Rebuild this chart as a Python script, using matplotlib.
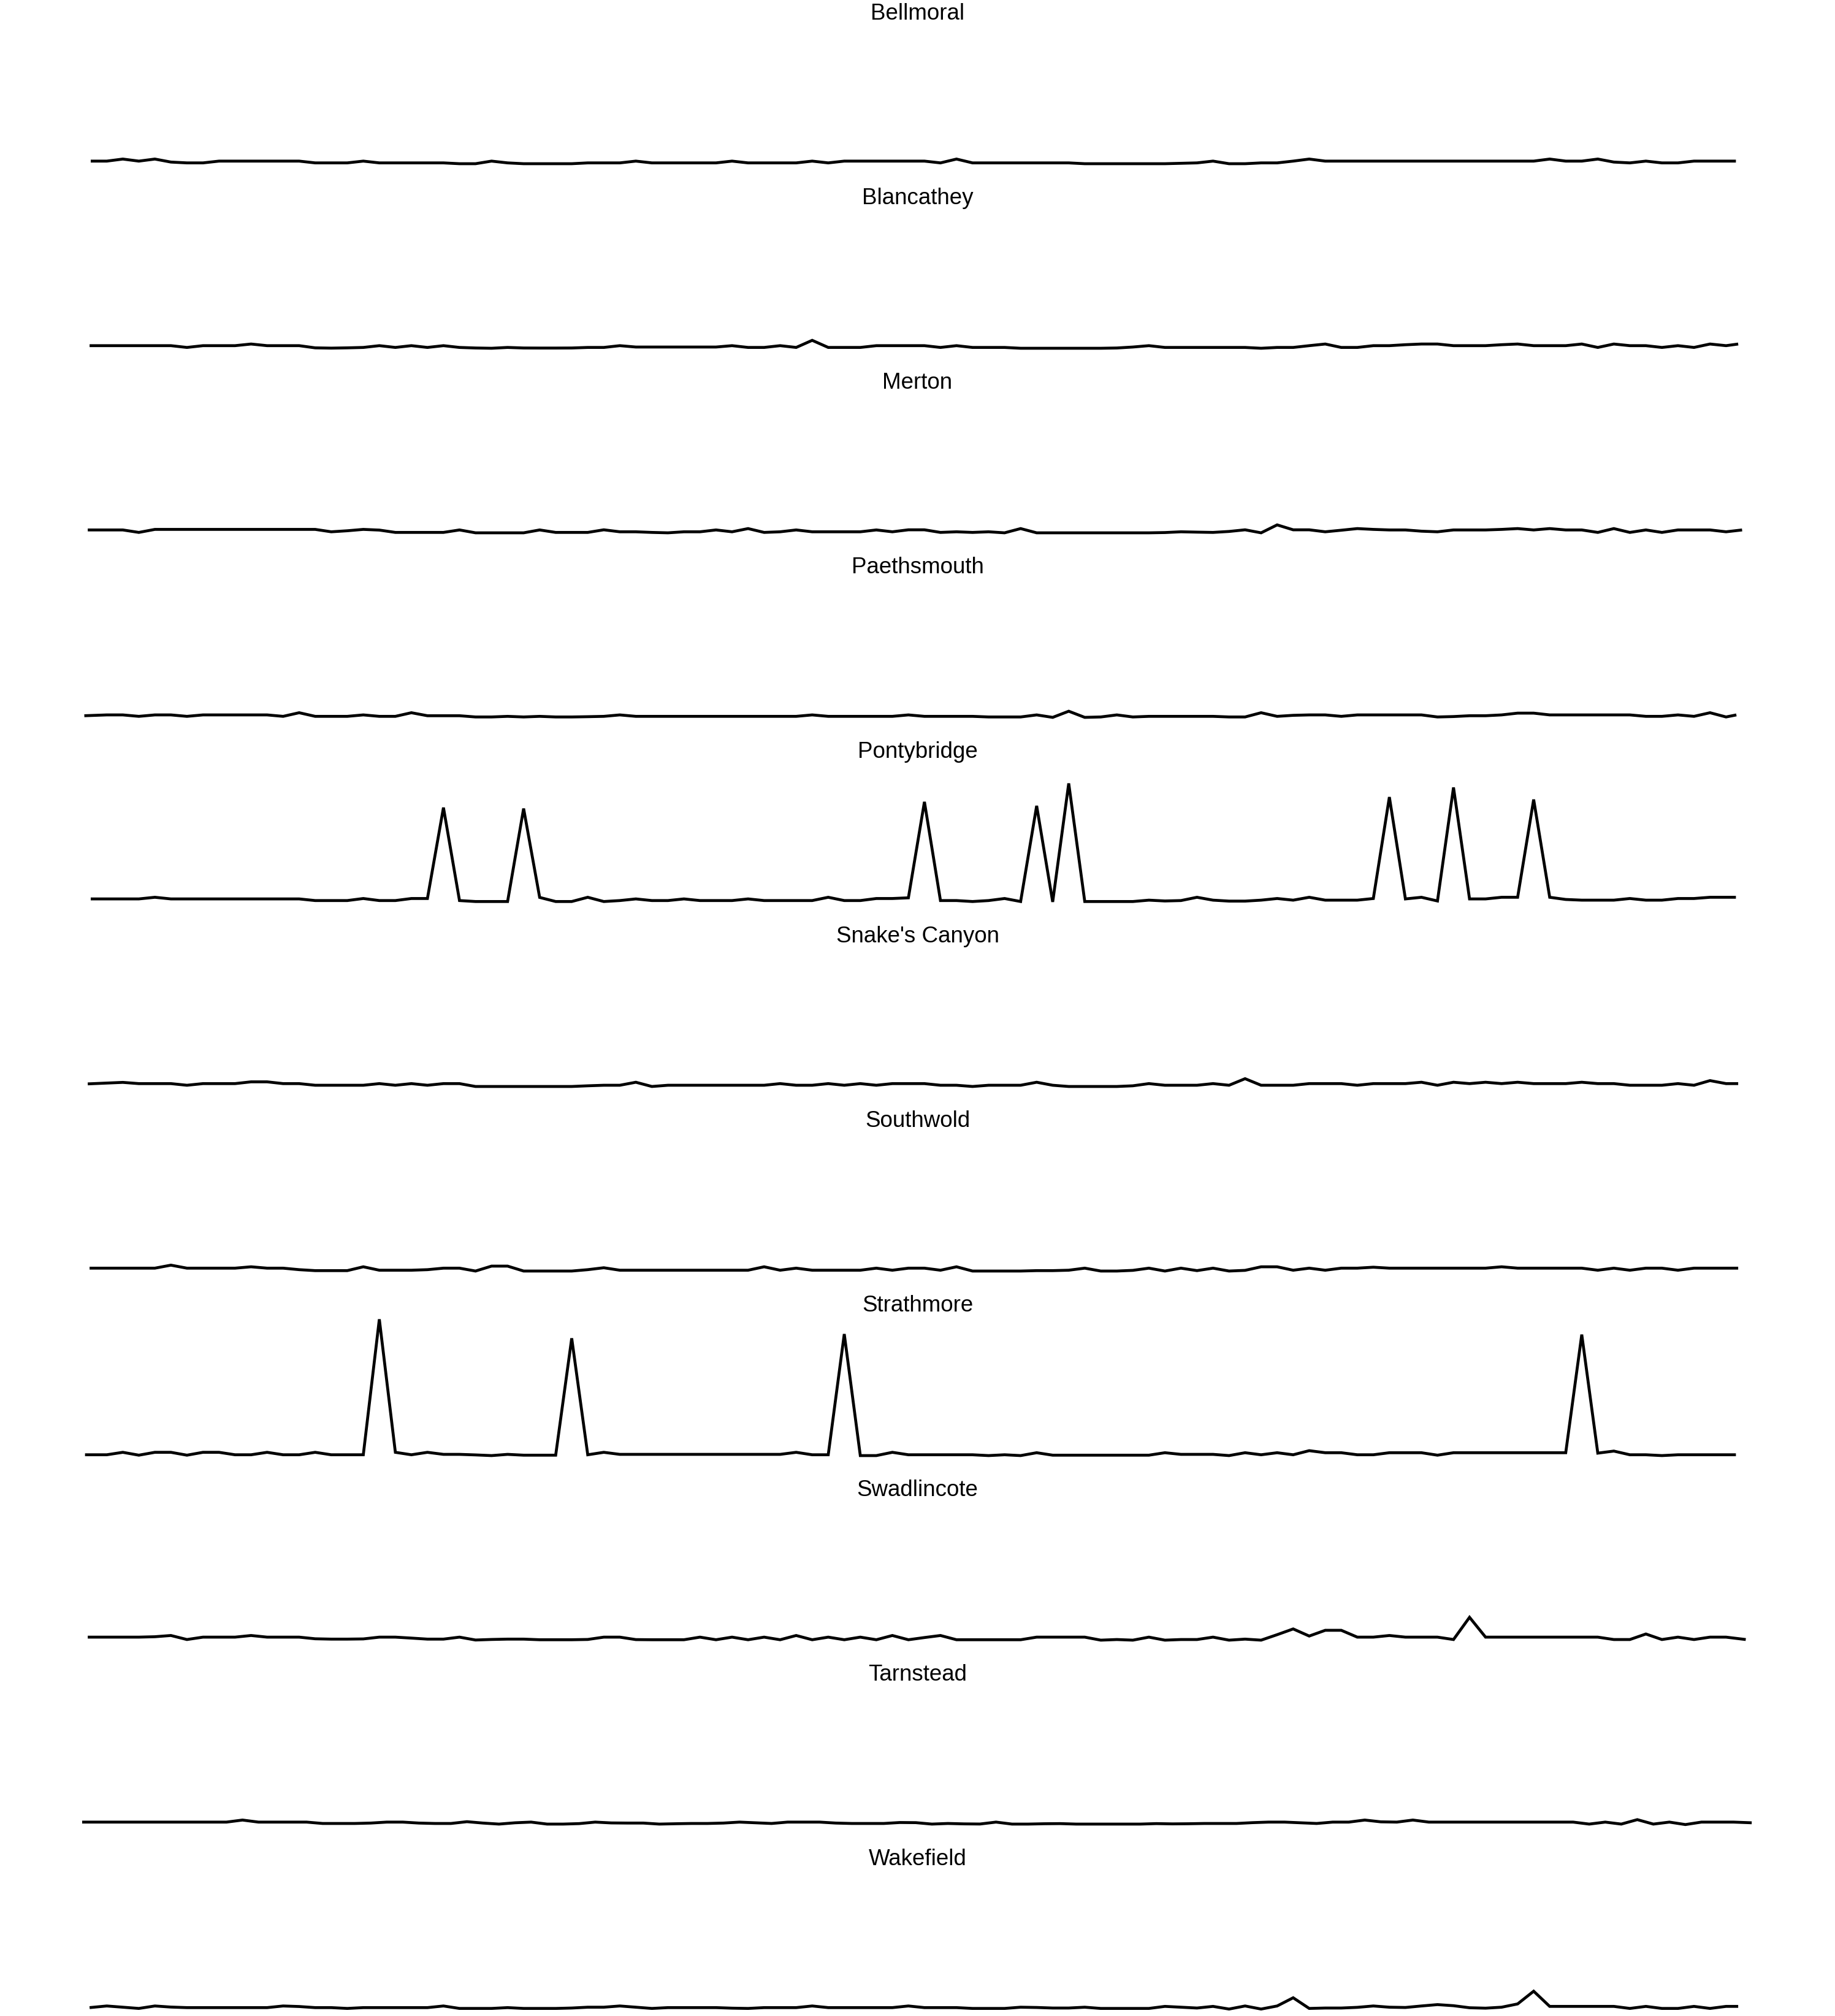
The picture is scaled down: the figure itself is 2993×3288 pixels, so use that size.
import numpy as np
import matplotlib
matplotlib.use("Agg")
import matplotlib.pyplot as plt

# Datos: una serie semanal por localidad (dias desde el inicio)
towns = ["Bellmoral", "Blancathey", "Merton", "Paethsmouth", "Pontybridge",
         "Snake's Canyon", "Southwold", "Strathmore", "Swadlincote",
         "Tarnstead", "Wakefield"]
start_day = [0.0, -0.5, -1.3, -2.8, 0.0, -1.3, -0.5, -2.5, -1.3, -3.75, -0.5]
end_day = [718.3, 719.3, 721.0, 718.5, 718.3, 719.3, 719.3, 718.3, 722.6, 725.2, 719.3]
week_offset = [0.0, 0.0, 0.0, 0.0, 0.0, 0.0, 0.0, 0.0, 0.0, -3.75, 0.0]

bellmoral = [1.9, 1.9, 3.4, 1.9, 3.4, 1.2, 0.6, 0.6, 1.9, 1.9,
             1.9, 1.9, 1.9, 1.9, 0.6, 0.6, 0.6, 1.9, 0.6, 0.6,
             0.6, 0.6, 0.6, 0.0, 0.0, 1.9, 0.6, 0.0, 0.0, 0.0,
             0.0, 0.6, 0.6, 0.6, 1.9, 0.6, 0.6, 0.6, 0.6, 0.6,
             1.9, 0.6, 0.6, 0.6, 0.6, 1.9, 0.6, 1.9, 1.9, 1.9,
             1.9, 1.9, 1.9, 0.6, 3.4, 0.6, 0.6, 0.6, 0.6, 0.6,
             0.6, 0.6, 0.0, 0.0, 0.0, 0.0, 0.0, 0.0, 0.3, 0.6,
             1.9, 0.0, 0.0, 0.6, 0.6, 1.9, 3.4, 1.9, 1.9, 1.9,
             1.9, 1.9, 1.9, 1.9, 1.9, 1.9, 1.9, 1.9, 1.9, 1.9,
             1.9, 3.4, 1.9, 1.9, 3.4, 1.2, 0.6, 1.9, 0.6, 0.6,
             1.9, 1.9, 1.9, 1.9]
blancathey = [1.9, 1.9, 1.9, 1.9, 1.9, 1.9, 0.6, 1.9, 1.9, 1.9,
              3.1, 1.9, 1.9, 1.9, 0.3, 0.1, 0.3, 0.6, 1.9, 0.6,
              1.9, 0.6, 1.9, 0.6, 0.2, 0.0, 0.6, 0.2, 0.15, 0.15,
              0.2, 0.6, 0.6, 1.9, 0.9, 0.9, 0.9, 0.9, 0.9, 0.9,
              1.9, 0.6, 0.6, 1.9, 0.6, 5.8, 0.6, 0.6, 0.6, 1.9,
              1.9, 1.9, 1.9, 0.6, 1.9, 0.6, 0.6, 0.6, 0.0, 0.0,
              0.0, 0.0, 0.0, 0.0, 0.2, 0.9, 1.9, 0.6, 0.6, 0.6,
              0.6, 0.6, 0.6, 0.0, 0.6, 0.6, 1.9, 3.1, 0.6, 0.6,
              1.9, 1.9, 2.6, 3.1, 3.1, 1.9, 1.9, 1.9, 2.6, 3.1,
              1.9, 1.9, 1.9, 3.1, 0.6, 3.1, 1.9, 1.9, 0.6, 1.9,
              0.6, 3.1, 1.9, 3.1]
merton = [2.1, 2.1, 2.1, 0.3, 2.5, 2.5, 2.5, 2.5, 2.5, 2.5,
          2.5, 2.5, 2.5, 2.5, 2.5, 0.75, 1.5, 2.5, 2.0, 0.3,
          0.3, 0.3, 0.3, 2.1, 0.0, 0.0, 0.0, 0.0, 2.1, 0.3,
          0.3, 0.3, 2.2, 0.75, 0.75, 0.3, 0.0, 0.75, 0.75, 2.1,
          0.75, 3.1, 0.3, 0.75, 2.1, 0.75, 0.75, 0.75, 0.75, 2.1,
          0.75, 2.2, 2.2, 0.3, 0.75, 0.3, 0.75, 0.0, 3.1, 0.0,
          0.0, 0.0, 0.0, 0.0, 0.0, 0.0, 0.0, 0.2, 0.75, 0.5,
          0.3, 1.0, 2.2, 0.0, 5.8, 2.2, 2.2, 0.75, 1.9, 3.1,
          2.5, 2.1, 2.1, 1.2, 0.75, 2.1, 2.1, 2.1, 2.5, 3.1,
          2.1, 3.1, 2.1, 2.1, 0.3, 3.1, 0.3, 2.1, 0.3, 2.1,
          2.1, 2.1, 0.75, 2.1]
paethsmouth = [1.2, 1.8, 1.8, 0.75, 1.8, 1.8, 0.75, 1.8, 1.8, 1.8,
               1.8, 1.8, 0.75, 3.4, 0.75, 0.75, 0.75, 1.8, 0.75, 0.75,
               3.4, 1.2, 1.2, 1.2, 0.3, 0.3, 0.75, 0.3, 0.75, 0.3,
               0.3, 0.5, 0.75, 1.8, 0.75, 0.75, 0.75, 0.75, 0.75, 0.75,
               0.75, 0.75, 0.75, 0.75, 0.75, 1.8, 0.75, 0.75, 0.75, 0.75,
               0.75, 1.8, 0.75, 0.75, 0.75, 0.75, 0.3, 0.3, 0.3, 1.8,
               0.0, 4.5, 0.0, 0.3, 1.8, 0.3, 0.75, 0.75, 0.75, 0.75,
               0.75, 0.3, 0.3, 3.4, 0.75, 1.5, 1.8, 1.8, 0.75, 1.8,
               1.8, 1.8, 1.8, 1.8, 0.3, 0.6, 1.2, 1.2, 1.8, 3.1,
               3.1, 1.8, 1.8, 1.8, 1.8, 1.8, 1.8, 0.75, 0.75, 1.8,
               0.75, 3.4, 0.3, 1.8]
pontybridge = [2.2, 2.2, 2.2, 2.2, 3.4, 2.2, 2.2, 2.2, 2.2, 2.2,
               2.2, 2.2, 2.2, 2.2, 1.0, 1.0, 1.0, 2.5, 1.0, 1.0,
               2.5, 2.5, 69.0, 1.0, 0.3, 0.3, 0.3, 68.3, 3.3, 0.3,
               0.3, 3.4, 0.3, 1.0, 2.2, 1.0, 1.0, 2.2, 1.0, 1.0,
               1.0, 2.2, 1.0, 1.0, 1.0, 1.0, 3.4, 1.0, 1.0, 2.5,
               2.5, 3.0, 73.2, 1.0, 1.0, 0.3, 1.0, 2.5, 0.3, 70.3,
               0.0, 86.7, 0.3, 0.3, 0.3, 0.3, 1.3, 0.7, 1.0, 3.4,
               1.3, 0.6, 0.6, 1.3, 2.5, 1.3, 3.4, 1.3, 1.3, 1.3,
               2.5, 76.7, 2.2, 3.4, 0.7, 83.7, 2.2, 2.2, 3.4, 3.4,
               74.9, 3.4, 1.8, 1.3, 1.3, 1.3, 2.5, 1.3, 1.3, 2.5,
               2.5, 3.4, 3.4, 3.4]
snakes_canyon = [1.9, 2.5, 3.0, 2.1, 2.1, 2.1, 0.9, 2.1, 2.1, 2.1,
                 3.4, 3.4, 2.1, 2.1, 0.9, 0.9, 0.9, 0.9, 2.1, 0.9,
                 2.1, 0.9, 2.1, 2.1, 0.0, 0.0, 0.0, 0.0, 0.0, 0.0,
                 0.0, 0.5, 0.9, 0.9, 3.1, 0.0, 0.9, 0.9, 0.9, 0.9,
                 0.9, 0.9, 0.9, 2.1, 0.9, 0.9, 2.1, 0.9, 2.1, 0.9,
                 2.1, 2.1, 2.1, 0.9, 0.9, 0.0, 0.9, 0.9, 0.9, 3.1,
                 0.9, 0.0, 0.0, 0.0, 0.0, 0.5, 2.1, 0.9, 0.9, 0.9,
                 2.1, 0.9, 5.7, 0.9, 0.9, 0.9, 2.1, 2.1, 2.1, 0.9,
                 2.1, 2.1, 2.1, 3.1, 0.9, 3.1, 2.1, 3.1, 2.1, 3.1,
                 2.1, 2.1, 2.1, 3.1, 2.1, 2.1, 0.9, 0.9, 0.9, 2.1,
                 0.9, 4.3, 2.1, 2.1]
southwold = [2.1, 2.1, 2.1, 2.1, 2.1, 4.3, 2.1, 2.1, 2.1, 2.1,
             3.1, 2.1, 2.1, 1.0, 0.3, 0.3, 0.3, 3.1, 0.6, 0.6,
             0.6, 1.0, 2.1, 2.1, 0.0, 3.6, 3.6, 0.0, 0.0, 0.0,
             0.0, 1.0, 2.4, 0.6, 0.6, 0.6, 0.6, 0.6, 0.6, 0.6,
             0.6, 0.6, 3.1, 0.6, 2.1, 0.6, 0.6, 0.6, 0.6, 2.1,
             0.6, 2.1, 2.1, 0.6, 3.1, 0.0, 0.0, 0.0, 0.0, 0.3,
             0.3, 0.6, 2.1, 0.0, 0.0, 0.5, 2.1, 0.0, 2.1, 0.3,
             2.1, 0.0, 0.5, 3.1, 3.1, 0.6, 2.1, 0.6, 2.1, 2.1,
             2.8, 2.1, 2.1, 2.1, 2.1, 2.1, 2.1, 2.1, 3.1, 2.1,
             2.1, 2.1, 2.1, 2.1, 0.6, 2.1, 0.6, 2.1, 2.1, 0.6,
             2.1, 2.1, 2.1, 2.1]
strathmore = [0.6, 0.6, 2.4, 0.3, 2.4, 2.4, 0.3, 2.4, 2.4, 0.6,
              0.6, 2.4, 0.6, 0.6, 2.4, 0.6, 0.6, 0.6, 99.7, 2.4,
              0.6, 2.4, 0.9, 0.9, 0.5, 0.0, 0.9, 0.3, 0.3, 0.3,
              85.8, 0.6, 2.4, 0.9, 0.9, 0.9, 0.9, 0.9, 0.9, 0.9,
              0.9, 0.9, 0.9, 0.9, 2.4, 0.6, 0.6, 88.9, 0.0, 0.0,
              2.4, 0.6, 0.6, 0.6, 0.6, 0.6, 0.0, 0.6, 0.0, 2.1,
              0.3, 0.3, 0.3, 0.3, 0.3, 0.3, 0.3, 2.1, 0.9, 0.9,
              0.9, 0.0, 2.1, 0.6, 2.1, 0.6, 3.6, 2.1, 2.1, 0.6,
              0.6, 2.1, 2.1, 2.1, 0.3, 2.1, 2.1, 2.1, 2.1, 2.1,
              2.1, 2.1, 2.1, 88.5, 1.8, 3.3, 0.6, 0.6, 0.0, 0.6,
              0.6, 0.6, 0.6, 0.6]
swadlincote = [2.2, 2.2, 2.2, 2.2, 2.5, 3.4, 0.45, 2.2, 2.2, 2.2,
               3.4, 2.2, 2.2, 2.2, 1.0, 0.75, 0.75, 0.9, 2.2, 2.2,
               1.5, 0.75, 0.75, 2.2, 0.1, 0.5, 0.75, 0.75, 0.3, 0.3,
               0.3, 0.5, 2.2, 2.2, 0.4, 0.3, 0.3, 0.3, 2.2, 0.3,
               2.2, 0.3, 2.2, 0.3, 3.4, 0.3, 2.2, 0.3, 2.2, 0.3,
               3.4, 0.3, 1.9, 3.4, 0.3, 0.3, 0.3, 0.3, 0.3, 2.2,
               2.2, 2.2, 2.2, 0.0, 0.45, 0.0, 2.2, 0.0, 0.45, 0.45,
               2.2, 0.0, 0.75, 0.0, 4.0, 8.2, 3.0, 7.2, 7.2, 2.2,
               2.2, 3.4, 2.2, 2.2, 2.2, 0.45, 16.7, 2.2, 2.2, 2.2,
               2.2, 2.2, 2.2, 2.2, 2.2, 0.45, 0.45, 4.5, 0.45, 2.2,
               0.45, 2.2, 2.2, 0.45]
tarnstead = [1.9, 1.9, 1.9, 1.9, 1.9, 1.9, 1.9, 1.9, 1.9, 1.9,
             3.4, 1.9, 1.9, 1.9, 1.9, 0.9, 0.9, 0.9, 1.2, 1.9,
             1.9, 1.2, 0.9, 0.9, 2.2, 1.2, 0.45, 1.4, 1.9, 0.45,
             0.45, 0.8, 1.9, 1.3, 1.2, 1.2, 0.45, 0.7, 0.9, 0.9,
             1.2, 1.9, 1.4, 0.9, 1.9, 1.9, 1.9, 1.2, 0.9, 0.9,
             0.9, 1.6, 1.5, 0.45, 0.9, 0.6, 0.5, 1.9, 0.45, 0.45,
             0.7, 0.8, 0.45, 0.45, 0.45, 0.45, 0.45, 0.8, 0.6, 0.7,
             0.9, 0.9, 0.9, 1.5, 1.9, 1.9, 1.4, 0.9, 1.9, 1.9,
             3.4, 2.1, 1.9, 3.4, 1.9, 1.9, 1.9, 1.9, 1.9, 1.9,
             1.9, 1.9, 1.9, 1.9, 0.45, 1.9, 0.45, 3.7, 0.45, 1.9,
             0.1, 1.9, 1.9, 1.9, 1.4]
wakefield = [1.2, 2.4, 1.5, 0.6, 2.4, 1.6, 1.2, 1.2, 1.2, 1.2,
             1.2, 1.2, 2.4, 2.0, 1.2, 1.2, 0.6, 1.2, 1.2, 1.2,
             1.2, 1.2, 2.4, 0.6, 0.6, 0.6, 1.2, 0.6, 0.6, 0.6,
             0.9, 1.5, 1.5, 2.4, 1.5, 0.6, 1.2, 1.2, 1.2, 1.2,
             0.8, 0.6, 1.2, 1.2, 1.2, 2.4, 1.2, 1.2, 1.2, 1.2,
             1.2, 2.4, 1.2, 1.2, 1.2, 0.6, 0.6, 0.6, 1.5, 1.3,
             0.9, 0.9, 1.5, 0.6, 0.6, 0.6, 0.6, 2.1, 1.5, 0.9,
             2.1, 0.15, 2.4, 0.15, 2.4, 8.4, 0.6, 0.9, 0.9, 1.4,
             2.4, 1.5, 1.3, 2.4, 3.4, 2.6, 1.1, 0.8, 1.5, 3.9,
             13.2, 2.1, 2.1, 2.1, 2.1, 2.1, 0.6, 2.1, 0.6, 0.6,
             2.1, 0.6, 2.1, 2.1]

series = [bellmoral, blancathey, merton, paethsmouth, pontybridge,
          snakes_canyon, southwold, strathmore, swadlincote, tarnstead, wakefield]

# Figura (pixeles)
W, H = 2993, 3288
fig = plt.figure(figsize=(W / 100, H / 100), dpi=100)
row = 301.0
left, right = 134.0, 2862.0

for i, town in enumerate(towns):
    vals = np.array(series[i])
    x = week_offset[i] + 7.0 * np.arange(len(vals))
    x[0] = start_day[i]
    x[-1] = end_day[i]

    top = 44.0 + row * i
    bottom = 267.0 + row * i
    ax = fig.add_axes([left / W, 1 - bottom / H, (right - left) / W, (bottom - top) / H])
    ax.plot(x, vals, color="black", lw=3.4, solid_joinstyle="miter",
            solid_capstyle="butt", clip_on=False)
    ax.set_xlim(min(start_day), 726.5)
    ax.set_ylim(0, 100)
    ax.axis("off")

    fig.text(0.5, 1 - (31.7 + row * i) / H, town, ha="center", va="baseline",
             fontsize=26.5, family=["Liberation Sans", "DejaVu Sans"])

fig.savefig("out.png", dpi=100, facecolor="white")
